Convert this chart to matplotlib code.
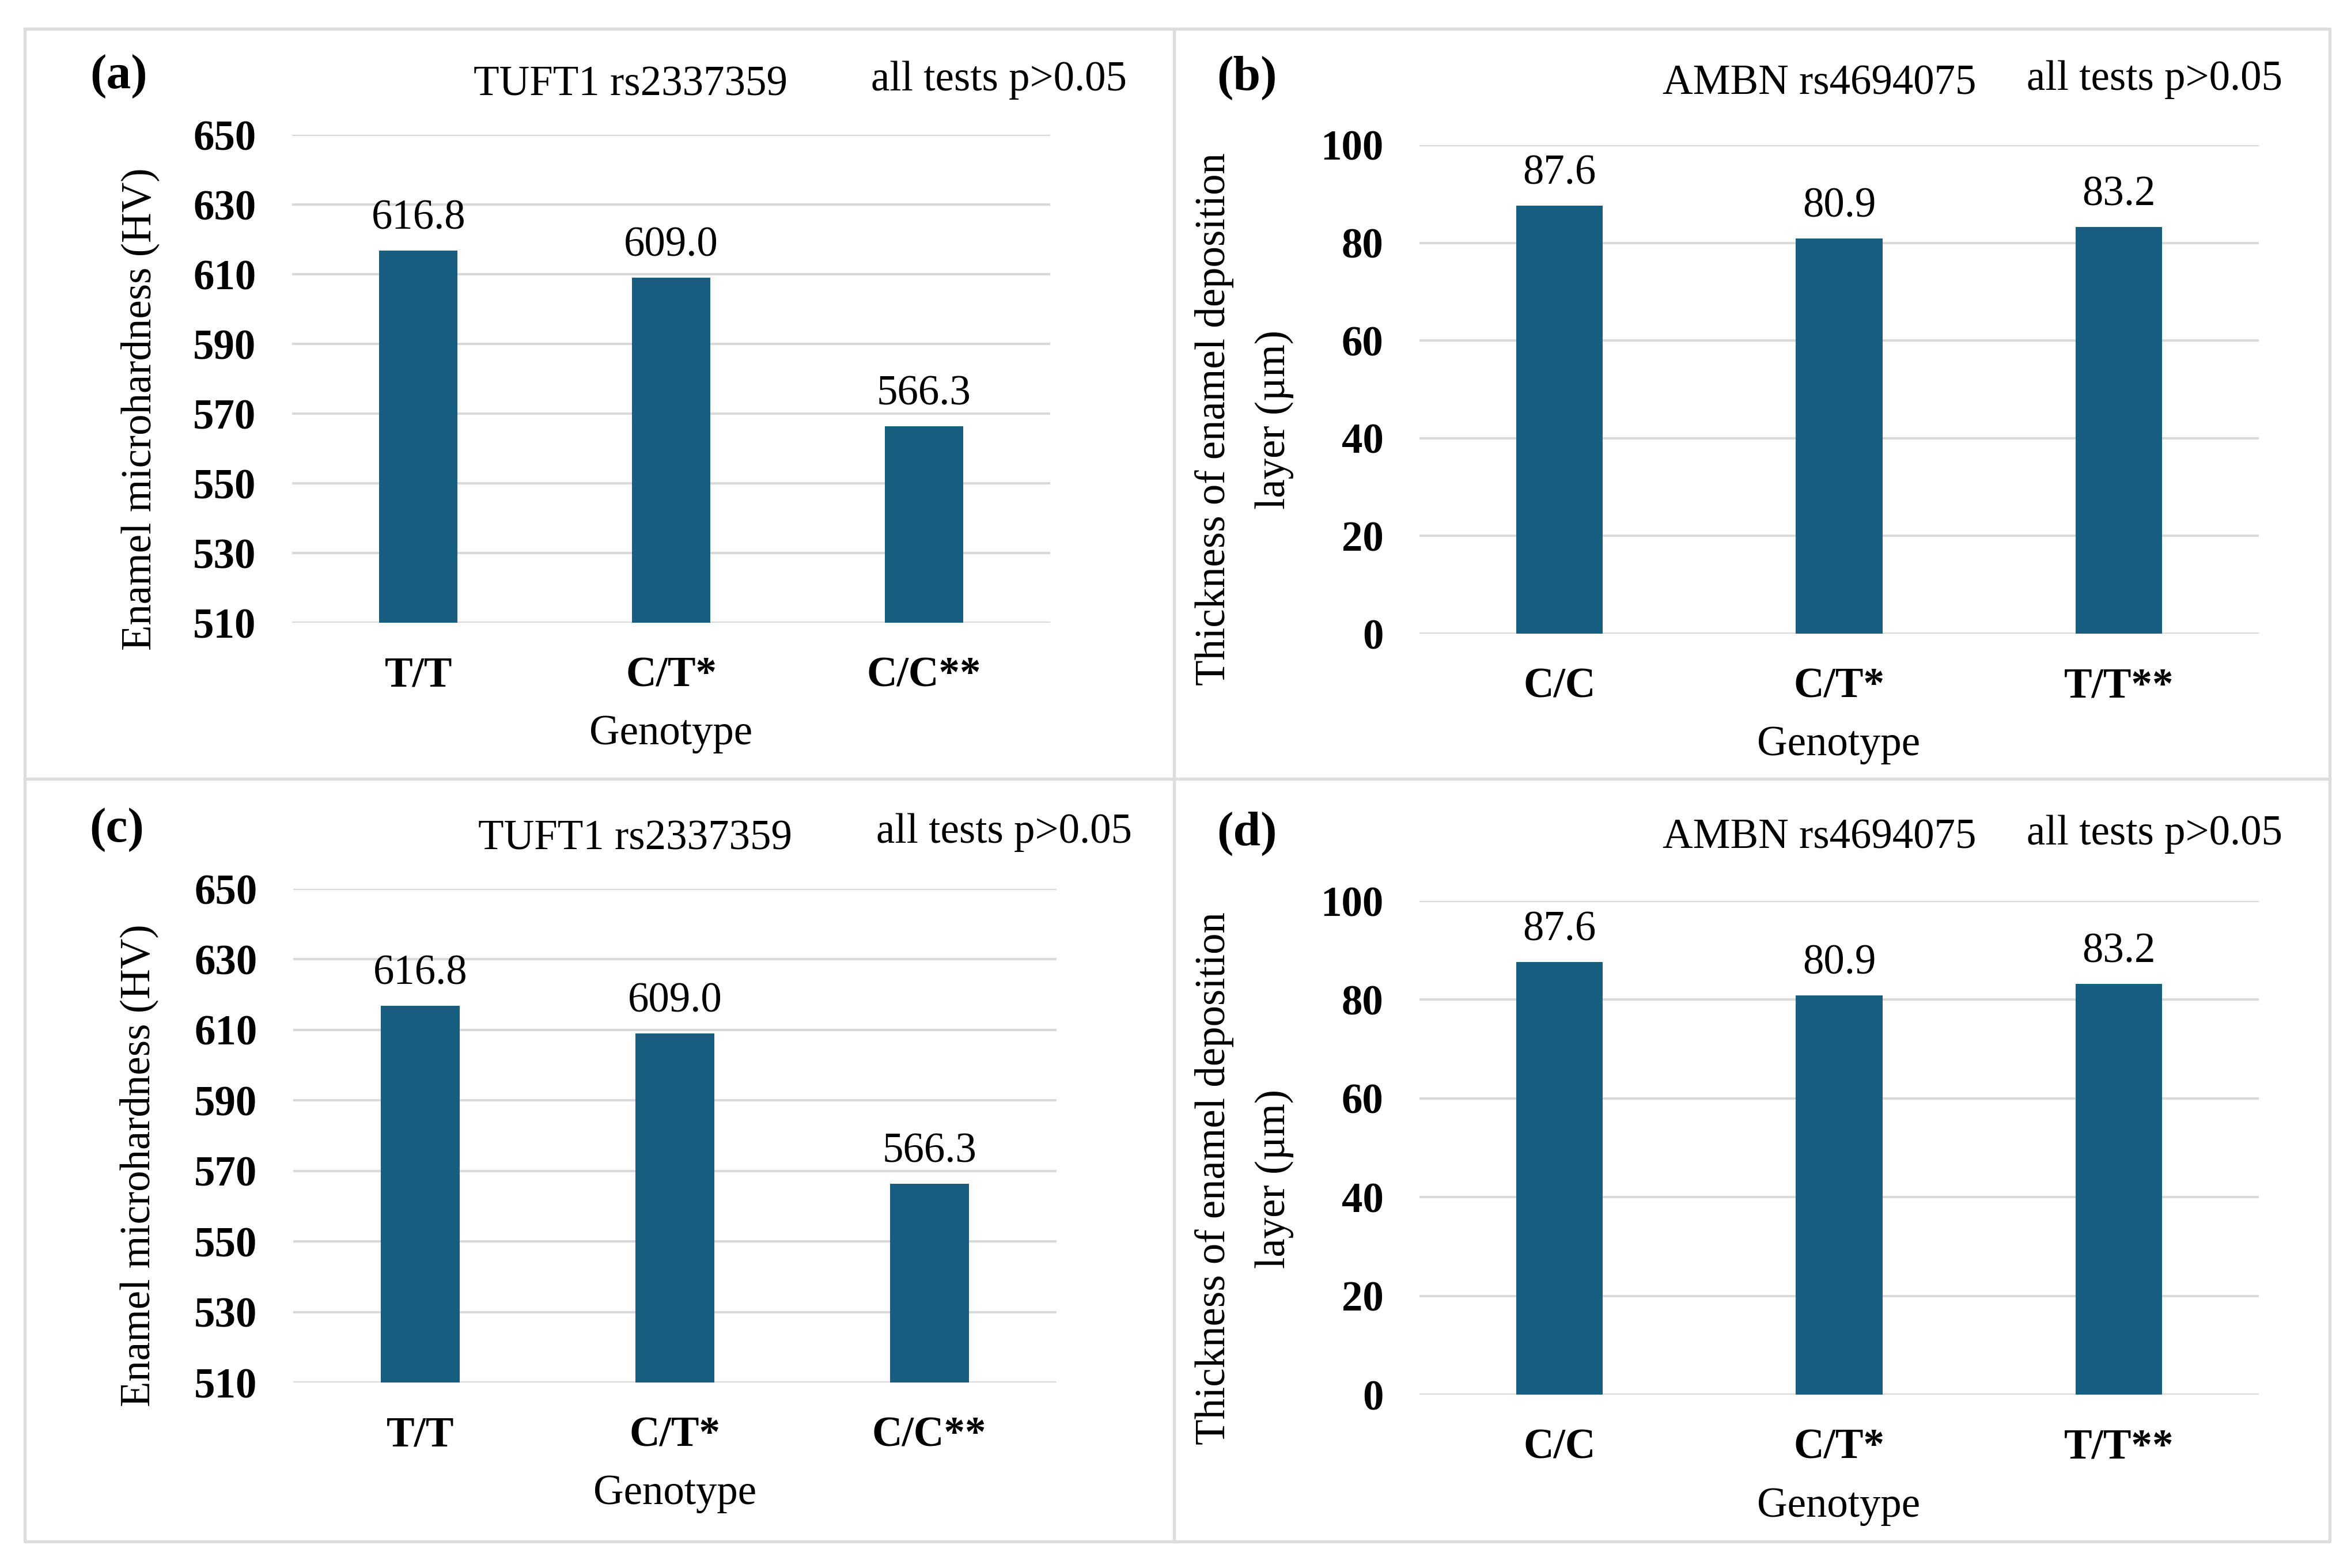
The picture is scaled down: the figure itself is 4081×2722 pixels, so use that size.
import numpy as np
import matplotlib.pyplot as plt
from matplotlib.lines import Line2D

plt.rcParams['font.family'] = ['Liberation Serif', 'DejaVu Serif']

W, H = 4081, 2722
DPI = 300

# data
tuft1_genotypes = ['T/T', 'C/T*', 'C/C**']
tuft1_hardness = [616.8, 609.0, 566.3]
tuft1_ticks = [510, 530, 550, 570, 590, 610, 630, 650]

ambn_genotypes = ['C/C', 'C/T*', 'T/T**']
ambn_thickness = [87.6, 80.9, 83.2]
ambn_ticks = [0, 20, 40, 60, 80, 100]

BAR_COLOR = '#175E81'
GRID_COLOR = '#D9D9D9'
BORDER_COLOR = '#DDDDDD'
FS = 17.5


def fx(x):
    return x / W


def fy(y):
    return 1 - y / H


def draw_panel(fig, box, letter, title, genes, values, ticks, ylabel, pos):
    left, top, right, bottom = box
    ax = fig.add_axes([fx(left), fy(bottom), fx(right) - fx(left), fy(top) - fy(bottom)])
    x = np.arange(len(genes))
    ymin, ymax = ticks[0], ticks[-1]
    ax.bar(x, np.array(values) - ymin, bottom=ymin, width=0.31, color=BAR_COLOR, zorder=2)
    for xi, v in zip(x, values):
        ax.annotate(f'{v:.1f}', (xi, v), xytext=(0, 9), textcoords='offset points',
                    ha='center', va='baseline', fontsize=FS)
    ax.set_xlim(-0.5, len(genes) - 0.5)
    ax.set_ylim(ymin, ymax)
    ax.set_yticks(ticks)
    ax.set_yticklabels([str(t) for t in ticks], fontweight='bold', fontsize=FS)
    ax.set_xticks(x)
    ax.set_xticklabels(genes, fontweight='bold', fontsize=FS)
    ax.tick_params(axis='both', length=0)
    ax.tick_params(axis='y', pad=15)
    ax.tick_params(axis='x', pad=14)
    ax.yaxis.grid(True, color=GRID_COLOR, linewidth=1.0, zorder=0)
    ax.set_axisbelow(True)
    for s in ax.spines.values():
        s.set_visible(False)

    fig.text(fx(pos['letter'][0]), fy(pos['letter'][1]), letter, fontsize=20.5,
             fontweight='bold', ha='center', va='baseline')
    fig.text(fx(pos['title'][0]), fy(pos['title'][1]), title, fontsize=FS,
             ha='center', va='baseline')
    fig.text(fx(pos['note'][0]), fy(pos['note'][1]), 'all tests p>0.05', fontsize=FS,
             ha='center', va='baseline')
    fig.text(fx(pos['ylabel'][0]), fy(pos['ylabel'][1]), ylabel, fontsize=FS,
             rotation=90, ha='center', va='center', multialignment='center',
             linespacing=1.7)
    fig.text(fx(pos['xlabel'][0]), fy(pos['xlabel'][1]), 'Genotype', fontsize=FS,
             ha='center', va='baseline')
    return ax


fig = plt.figure(figsize=(W / DPI, H / DPI), dpi=DPI)

hard_label = 'Enamel microhardness (HV)'
thick_label = 'Thickness of enamel deposition\nlayer (\u00b5m)'

draw_panel(fig, (507, 234, 1823, 1081), '(a)', 'TUFT1 rs2337359',
           tuft1_genotypes, tuft1_hardness, tuft1_ticks, hard_label,
           {'letter': (206, 153), 'title': (1094, 166), 'note': (1734, 157),
            'ylabel': (243, 710), 'xlabel': (1165, 1292)})
draw_panel(fig, (2464, 252, 3921, 1100), '(b)', 'AMBN rs4694075',
           ambn_genotypes, ambn_thickness, ambn_ticks, thick_label,
           {'letter': (2164, 156), 'title': (3158, 163), 'note': (3740, 156),
            'ylabel': (2160, 728), 'xlabel': (3192, 1311)})
draw_panel(fig, (509, 1543, 1834, 2400), '(c)', 'TUFT1 rs2337359',
           tuft1_genotypes, tuft1_hardness, tuft1_ticks, hard_label,
           {'letter': (203, 1461), 'title': (1103, 1474), 'note': (1743, 1463),
            'ylabel': (241, 2023), 'xlabel': (1172, 2611)})
draw_panel(fig, (2464, 1564, 3921, 2421), '(d)', 'AMBN rs4694075',
           ambn_genotypes, ambn_thickness, ambn_ticks, thick_label,
           {'letter': (2164, 1468), 'title': (3158, 1472), 'note': (3740, 1466),
            'ylabel': (2160, 2046), 'xlabel': (3192, 2633)})

# light grey frame around the four panels
L, T, R, B = 43, 50, 4044, 2676
MX, MY = 2038, 1352
frame = [([L, R, R, L, L], [T, T, B, B, T]),
         ([MX, MX], [T, B]),
         ([L, R], [MY, MY])]
for xs, ys in frame:
    fig.add_artist(Line2D([fx(v) for v in xs], [fy(v) for v in ys],
                          color=BORDER_COLOR, linewidth=1.3))

fig.savefig('out.png', dpi=DPI)
